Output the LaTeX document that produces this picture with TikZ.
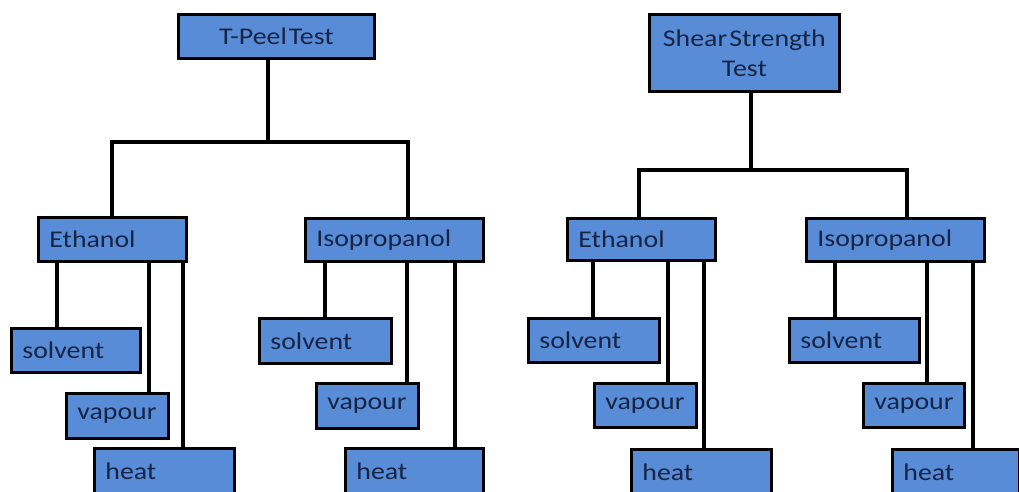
\documentclass[tikz,border=0pt]{standalone}
\usepackage{fontspec}
\setmainfont[FakeStretch=1.16]{Carlito}
\usetikzlibrary{backgrounds}
\definecolor{boxblue}{RGB}{88,140,214}
\definecolor{textblue}{RGB}{22,36,70}
\tikzset{
  box/.style={draw=black, line width=2.8pt, fill=boxblue, text=textblue,
    font=\fontsize{24}{30}\selectfont, anchor=north west, inner xsep=11pt, inner ysep=0pt, align=left},
  cbox/.style={box, align=center, inner xsep=4pt},
  link/.style={draw=black, line width=3.6pt},
}
\begin{document}
\begin{tikzpicture}[x=1pt,y=-1pt]
\clip (0,0) rectangle (1019,491);
% left tree
\node[cbox, text width=188pt, minimum height=44pt] (tp) at (177,13) {T-Peel\hspace{2pt}Test};
\node[box, text width=126pt, minimum height=44pt] (e1) at (37,216) {Ethanol};
\node[box, text width=156pt, minimum height=43pt] (i1) at (304,217) {Isopropanol};
\node[box, text width=107pt, minimum height=44pt] (s1) at (10,327) {solvent};
\node[box, text width=80pt, minimum height=45pt] (v1) at (65,392) {vapour};
\node[box, text width=118pt, minimum height=46pt] (h1) at (93,447) {heat};
\node[box, text width=110pt, minimum height=45pt] (s2) at (258,317) {solvent};
\node[box, text width=80pt, minimum height=45pt] (v2) at (315,382) {vapour};
\node[box, text width=116pt, minimum height=46pt] (h2) at (344,447) {heat};
% right tree
\node[cbox, text width=182pt, minimum height=77pt] (ss) at (648,13) {Shear\hspace{2pt}Strength\\Test};
\node[box, text width=126pt, minimum height=42pt] (e3) at (566,217) {Ethanol};
\node[box, text width=156pt, minimum height=43pt] (i3) at (805,217) {Isopropanol};
\node[box, text width=109pt, minimum height=44pt] (s3) at (527,317) {solvent};
\node[box, text width=80pt, minimum height=44pt] (v3) at (593,382) {vapour};
\node[box, text width=118pt, minimum height=46pt] (h3) at (630,448) {heat};
\node[box, text width=108pt, minimum height=44pt] (s4) at (788,317) {solvent};
\node[box, text width=79pt, minimum height=44pt] (v4) at (862,382) {vapour};
\node[box, text width=105pt, minimum height=46pt] (h4) at (891,448) {heat};
\begin{pgfonlayer}{background}
\fill[white] (0,0) rectangle (1019,491);
% left tree connectors
\draw[link] (tp.south -| 268,0) -- (268,142);
\draw[link] (e1.north -| 112,0) -- (112,142) -- (408,142) -- (i1.north -| 408,0);
\draw[link] (e1.south -| 57,0) -- (s1.north -| 57,0);
\draw[link] (e1.south -| 149,0) -- (v1.north -| 149,0);
\draw[link] (e1.south -| 183,0) -- (h1.north -| 183,0);
\draw[link] (i1.south -| 325,0) -- (s2.north -| 325,0);
\draw[link] (i1.south -| 407,0) -- (v2.north -| 407,0);
\draw[link] (i1.south -| 455,0) -- (h2.north -| 455,0);
% right tree connectors
\draw[link] (ss.south -| 751,0) -- (751,170);
\draw[link] (e3.north -| 639,0) -- (639,170) -- (907,170) -- (i3.north -| 907,0);
\draw[link] (e3.south -| 593,0) -- (s3.north -| 593,0);
\draw[link] (e3.south -| 668,0) -- (v3.north -| 668,0);
\draw[link] (e3.south -| 704,0) -- (h3.north -| 704,0);
\draw[link] (i3.south -| 835,0) -- (s4.north -| 835,0);
\draw[link] (i3.south -| 927,0) -- (v4.north -| 927,0);
\draw[link] (i3.south -| 973,0) -- (h4.north -| 973,0);
\end{pgfonlayer}
\end{tikzpicture}
\end{document}
